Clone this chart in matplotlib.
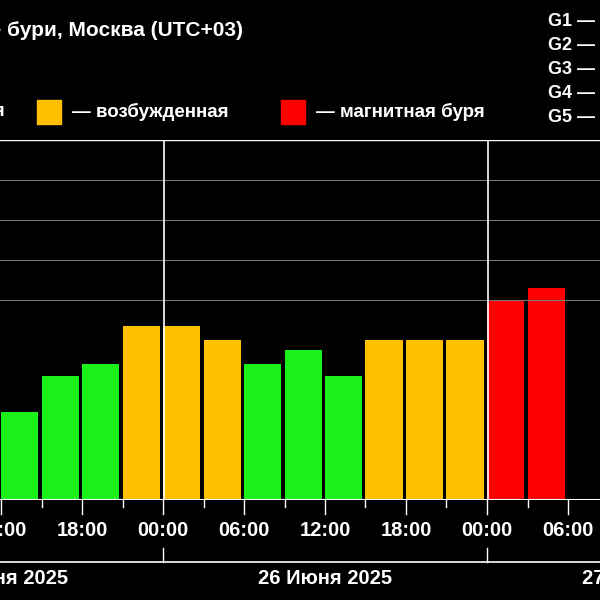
import matplotlib.pyplot as plt
from matplotlib.patches import Rectangle

# hours since 25 June 2025 00:00 (start of each 3-hour bin)
bin_start = [12, 15, 18, 21, 24, 27, 30, 33, 36, 39, 42, 45, 48, 51]
kp_values = [2.2, 3.1, 3.4, 4.35, 4.35, 4.0, 3.4, 3.75, 3.1, 4.0, 4.0, 4.0, 5.0, 5.3]
tick_labels = ["12:00", "18:00", "00:00", "06:00", "12:00", "18:00", "00:00", "06:00"]
tick_hours = [12, 18, 24, 30, 36, 42, 48, 54]
day_labels = ["25 Июня 2025", "26 Июня 2025", "27 Июня 2025"]
day_centers = [12, 36, 60]

GREEN, YELLOW, RED = "#19f119", "#ffc000", "#ff0000"


def bar_color(kp):
    if kp >= 5:
        return RED
    if kp >= 4:
        return YELLOW
    return GREEN


plt.rcParams["font.family"] = "Liberation Sans"
plt.rcParams["font.weight"] = "bold"

fig = plt.figure(figsize=(6, 6), dpi=100, facecolor="black")
ax = fig.add_axes([0, 100 / 600, 1, 360 / 600], facecolor="black")
ax.set_xlim(12 - 1 / 13.5, 12 + 599 / 13.5)
ax.set_ylim(0, 9)
for s in ax.spines.values():
    s.set_visible(False)
ax.set_xticks([])
ax.set_yticks([])

for y in [5, 6, 7, 8]:
    ax.axhline(y, color="#777777", lw=0.8)
ax.axhline(9, color="white", lw=1)

ax.bar(bin_start, kp_values, width=2.75, align="edge",
       color=[bar_color(k) for k in kp_values])
ax.axhline(0, color="white", lw=1.5)
for d in [24, 48]:
    ax.axvline(d + 0.05, color="white", lw=1.2)

# tick marks below the axis
for h in range(12, 57, 3):
    ln = 0.35 if h % 6 == 0 else 0.17
    ax.plot([h, h], [0, -ln], color="white", lw=1, clip_on=False)
for h, lab in zip(tick_hours, tick_labels):
    ax.text(h, -0.75, lab, color="white", ha="center", va="center", fontsize=14.5)

ax.plot([11, 58], [-1.55, -1.55], color="white", lw=1.2, clip_on=False)
for d in [24, 48]:
    ax.plot([d, d], [-1.55, -1.2], color="white", lw=1, clip_on=False)
for c, lab in zip(day_centers, day_labels):
    ax.text(c, -1.95, lab, color="white", ha="center", va="center", fontsize=14.5)

# header
fig.text(243 / 600, 1 - 30 / 600, "Магнитные бури, Москва (UTC+03)", color="white",
         ha="right", va="center", fontsize=15)
fig.text(5 / 600, 1 - 112 / 600, "— спокойная", color="white",
         ha="right", va="center", fontsize=13.5)
fig.add_artist(Rectangle((37 / 600, 1 - 124 / 600), 24 / 600, 24 / 600,
                         color=YELLOW, transform=fig.transFigure))
fig.text(72 / 600, 1 - 112 / 600, "— возбужденная", color="white",
         ha="left", va="center", fontsize=13.5)
fig.add_artist(Rectangle((281 / 600, 1 - 124 / 600), 24 / 600, 24 / 600,
                         color=RED, transform=fig.transFigure))
fig.text(316 / 600, 1 - 112 / 600, "— магнитная буря", color="white",
         ha="left", va="center", fontsize=13.5)
for i, g in enumerate(["G1", "G2", "G3", "G4", "G5"]):
    fig.text(548 / 600, 1 - (21 + 24 * i) / 600, g + " — слабая", color="white",
             ha="left", va="center", fontsize=13)

fig.savefig("out.png", dpi=100, facecolor="black")
